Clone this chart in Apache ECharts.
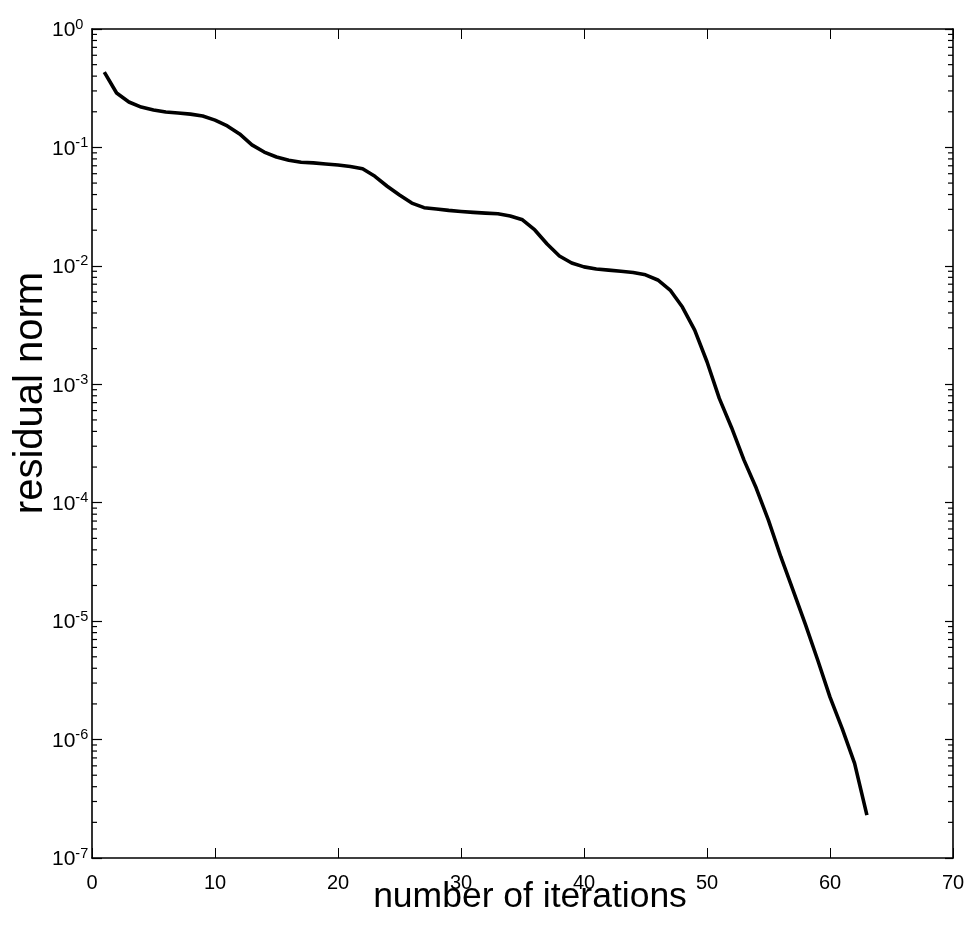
<!DOCTYPE html>
<html>
<head>
<meta charset="utf-8">
<script src="https://cdn.jsdelivr.net/npm/echarts@6/dist/echarts.min.js"></script>
<style>
  html, body { margin: 0; padding: 0; background: #fff; }
  #chart { width: 969px; height: 925px; }
</style>
</head>
<body>
<div id="chart"></div>
<script>
// Convergence history: residual norm per iteration
const iterations = [
  1, 2, 3, 4, 5, 6, 7, 8, 9, 10,
  11, 12, 13, 14, 15, 16, 17, 18, 19, 20,
  21, 22, 23, 24, 25, 26, 27, 28, 29, 30,
  31, 32, 33, 34, 35, 36, 37, 38, 39, 40,
  41, 42, 43, 44, 45, 46, 47, 48, 49, 50,
  51, 52, 53, 54, 55, 56, 57, 58, 59, 60,
  61, 62, 63
];
const residualNorm = [
  0.433, 0.288, 0.242, 0.219, 0.207, 0.199, 0.195, 0.191, 0.184, 0.170,
  0.152, 0.130, 0.105, 0.0914, 0.083, 0.078, 0.075, 0.074, 0.0725, 0.071,
  0.069, 0.066, 0.057, 0.047, 0.0396, 0.0339, 0.031, 0.0302, 0.0294, 0.0288,
  0.0283, 0.0279, 0.0275, 0.0264, 0.0245, 0.0201, 0.0153, 0.0121, 0.01056, 0.0098,
  0.0094, 0.0092, 0.0090, 0.0088, 0.0084, 0.0076, 0.00625, 0.00449, 0.00287, 0.00155,
  0.00076, 0.00043, 0.00023, 0.000133, 7.1e-5, 3.5e-5, 1.82e-5, 9.4e-6, 4.7e-6, 2.28e-6,
  1.23e-6, 6.3e-7, 2.3e-7
];

// Axis ranges and labels
const xTicks = [0, 10, 20, 30, 40, 50, 60, 70];
const yDecadeExponents = [-7, -6, -5, -4, -3, -2, -1, 0];
const xTitle = 'number of iterations';
const yTitle = 'residual norm';

const X_MIN = xTicks[0], X_MAX = xTicks[xTicks.length - 1];
const Y_MIN = Math.pow(10, yDecadeExponents[0]);
const Y_MAX = Math.pow(10, yDecadeExponents[yDecadeExponents.length - 1]);

// Minor tick positions 2..9 within each decade of the log axis
const minorValues = [];
for (let k = 0; k < yDecadeExponents.length - 1; k++) {
  for (let m = 2; m <= 9; m++) {
    minorValues.push([X_MIN, m * Math.pow(10, yDecadeExponents[k])]);
  }
}

const FONT = '"Liberation Sans", Arial, Helvetica, sans-serif';
const chart = echarts.init(document.getElementById('chart'), null, { renderer: 'canvas' });

const axisLineStyle = { color: '#000', width: 1.6 };

chart.setOption({
  animation: false,
  backgroundColor: '#fff',
  grid: { left: 92, right: 16, top: 29, bottom: 67, containLabel: false },
  xAxis: [
    {
      type: 'value', position: 'bottom', min: X_MIN, max: X_MAX, interval: 10,
      axisLine: { show: true, onZero: false, lineStyle: axisLineStyle },
      axisTick: { show: true, inside: true, length: 10, lineStyle: { color: '#000', width: 1 } },
      axisLabel: { show: true, margin: 15, color: '#000', fontSize: 20, fontFamily: FONT },
      splitLine: { show: false }
    },
    {
      type: 'value', position: 'top', min: X_MIN, max: X_MAX, interval: 10,
      axisLine: { show: true, onZero: false, lineStyle: axisLineStyle },
      axisTick: { show: true, inside: true, length: 10, lineStyle: { color: '#000', width: 1 } },
      axisLabel: { show: false },
      splitLine: { show: false }
    }
  ],
  yAxis: [
    {
      type: 'log', logBase: 10, position: 'left', min: Y_MIN, max: Y_MAX, interval: 1,
      axisLine: { show: true, onZero: false, lineStyle: axisLineStyle },
      axisTick: { show: true, inside: true, length: 10, lineStyle: { color: '#000', width: 1.2 } },
      axisLabel: {
        show: true, margin: 40, align: 'left', color: '#000', fontFamily: FONT,
        formatter: function (v) {
          const e = Math.round(Math.log10(v));
          return '{b|10}{s|' + e + '}';
        },
        rich: {
          b: { fontSize: 21, fontFamily: FONT, color: '#000', lineHeight: 24, verticalAlign: 'bottom', padding: [8, 0, 0, 0] },
          s: { fontSize: 14.5, fontFamily: FONT, color: '#000', lineHeight: 16, verticalAlign: 'top' }
        }
      },
      splitLine: { show: false }
    },
    {
      type: 'log', logBase: 10, position: 'right', min: Y_MIN, max: Y_MAX, interval: 1,
      axisLine: { show: true, onZero: false, lineStyle: axisLineStyle },
      axisTick: { show: true, inside: true, length: 8, lineStyle: { color: '#000', width: 1.2 } },
      axisLabel: { show: false },
      splitLine: { show: false }
    }
  ],
  graphic: [
    {
      type: 'text', x: 530, y: 897,
      style: { text: xTitle, font: '35.5px ' + FONT, fill: '#000', textAlign: 'center', textVerticalAlign: 'middle' }
    },
    {
      type: 'text', x: 31, y: 393, rotation: Math.PI / 2,
      style: { text: yTitle, font: '40px ' + FONT, fill: '#000', textAlign: 'center', textVerticalAlign: 'middle' }
    }
  ],
  series: [
    {
      // minor ticks on the left and right log axes
      type: 'custom', xAxisIndex: 0, yAxisIndex: 0, clip: false, silent: true,
      data: minorValues,
      renderItem: function (params, api) {
        const v = api.value(1);
        const pl = api.coord([X_MIN, v]);
        const pr = api.coord([X_MAX, v]);
        return {
          type: 'group',
          children: [
            { type: 'line', shape: { x1: pl[0], y1: pl[1], x2: pl[0] + 5, y2: pl[1] }, style: { stroke: '#000', lineWidth: 1.2 } },
            { type: 'line', shape: { x1: pr[0], y1: pr[1], x2: pr[0] - 5, y2: pr[1] }, style: { stroke: '#000', lineWidth: 1.2 } }
          ]
        };
      }
    },
    {
      type: 'line', xAxisIndex: 0, yAxisIndex: 0,
      data: iterations.map((it, i) => [it, residualNorm[i]]),
      showSymbol: false, symbol: 'none', smooth: false,
      lineStyle: { color: '#000', width: 3.6, join: 'round', cap: 'butt' }
    }
  ]
});
</script>
</body>
</html>
